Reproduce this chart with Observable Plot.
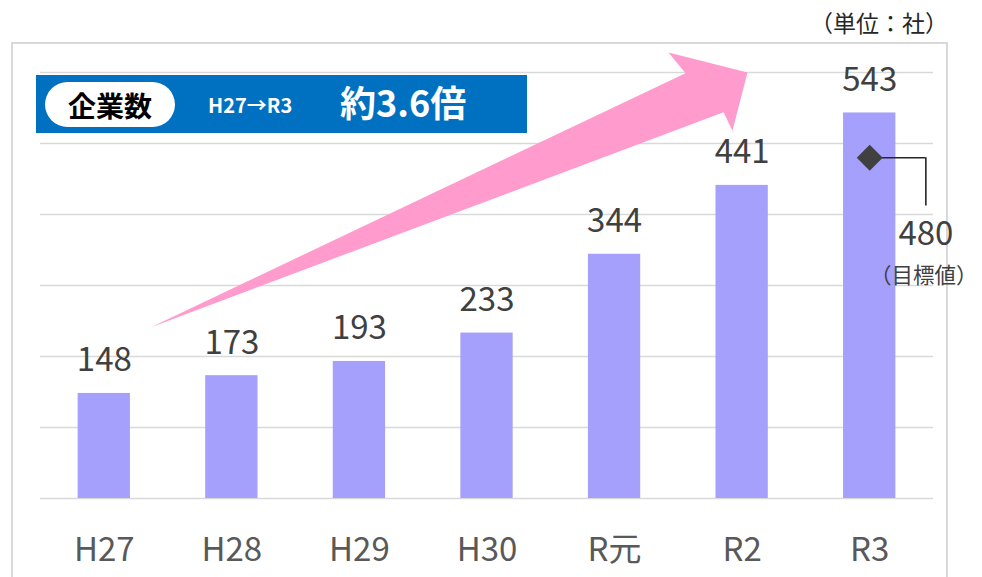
<!DOCTYPE html>
<html>
<head>
<meta charset="utf-8">
<script src="https://cdn.jsdelivr.net/npm/d3@7"></script>
<script src="https://cdn.jsdelivr.net/npm/@observablehq/plot@0.6"></script>
<style>
  html, body { margin: 0; padding: 0; background: #fff; }
  body { font-family: "Noto Sans CJK JP", "Noto Sans", sans-serif; }
  #wrap { position: relative; width: 982px; height: 577px; overflow: hidden; }
  #frame { position: absolute; left: 11px; top: 42px; width: 937px; height: 560px; border: 2px solid #d9d9d9; box-sizing: border-box; }
  #chart { position: absolute; left: 0; top: 0; }
  #unit { position: absolute; right: 34px; top: 5px; font-size: 23px; color: #262626; white-space: nowrap; }
  #banner { position: absolute; left: 36px; top: 75px; width: 491px; height: 58px; background: #0070c0; }
  #pill { position: absolute; left: 9px; top: 7px; width: 130px; height: 45px; border-radius: 23px; background: #fff;
          display: flex; align-items: center; justify-content: center; font-weight: bold; font-size: 28px; color: #000; }
  #period { position: absolute; left: 172px; top: 15px; font-size: 20px; font-weight: bold; color: #fff; white-space: nowrap; }
  #ratio { position: absolute; left: 304px; top: 0px; font-size: 36px; font-weight: bold; color: #fff; white-space: nowrap; }
</style>
</head>
<body>
<div id="wrap">
  <div id="frame"></div>
  <div id="chart"></div>
  <div id="unit">（単位：社）</div>
  <div id="banner">
    <div id="pill">企業数</div>
    <span id="period">H27→R3</span>
    <span id="ratio">約3.6倍</span>
  </div>
</div>
<script>
// ---- data ----
const categories = ["H27", "H28", "H29", "H30", "R元", "R2", "R3"];
const companies = [148, 173, 193, 233, 344, 441, 543];
const targetCategory = "R3";
const targetValue = 480;
const targetLabel = "（目標値）";
const gridValues = [0, 100, 200, 300, 400, 500, 600];
// decorative growth arrow outline, in data units (category index, value)
const arrowIndex = [0.362, 4.556, 4.423, 5.042, 4.924, 4.854];
const arrowValue = [241, 599, 628, 600, 518, 544];

const rows = categories.map((c, i) => ({ i, cat: c, value: companies[i] }));
const arrow = arrowIndex.map((x, k) => ({ x, y: arrowValue[k] }));
const tIdx = categories.indexOf(targetCategory);
const target = [{ i: tIdx, value: targetValue }];

const half = 0.205;
const font = "'Noto Sans CJK JP', 'Noto Sans', sans-serif";

const chart = Plot.plot({
  width: 982,
  height: 577,
  marginTop: 72,
  marginBottom: 79,
  marginLeft: 40,
  marginRight: 49,
  x: { type: "linear", domain: [-0.5, categories.length - 0.5], axis: null },
  y: { domain: [0, 600], axis: null },
  style: { fontFamily: font, background: "transparent", overflow: "visible" },
  marks: [
    Plot.ruleY(gridValues, { stroke: "#d9d9d9", strokeWidth: 1.6 }),
    Plot.line(arrow, { x: "x", y: "y", fill: "#ff9bcd", stroke: "none", curve: "linear-closed" }),
    Plot.rectY(rows, { x1: d => d.i - half, x2: d => d.i + half, y1: 0, y2: "value", fill: "#a4a0fc" }),
    Plot.text(rows, { x: "i", y: "value", text: d => String(d.value), dy: -22, lineAnchor: "bottom", fontSize: 33, fill: "#404040" }),
    Plot.text(rows, { x: "i", frameAnchor: "bottom", text: "cat", dy: 62, lineAnchor: "bottom", fontSize: 33, fill: "#595959" }),
    // target annotation
    Plot.ruleY(target, { y: "value", x1: d => d.i, x2: d => d.i + 0.44, stroke: "#262626", strokeWidth: 1.6 }),
    Plot.ruleX(target, { x: d => d.i + 0.44, y1: "value", y2: d => d.value - 68, stroke: "#262626", strokeWidth: 1.6 }),
    Plot.dot(target, { x: "i", y: "value", symbol: "diamond2", r: 11.7, fill: "#404040", stroke: "none" }),
    Plot.text(target, { x: d => d.i + 0.44, y: "value", text: d => String(d.value), dy: 87, lineAnchor: "bottom", fontSize: 33, fill: "#404040" }),
    Plot.text(target, { x: d => d.i + 0.44, y: "value", text: () => targetLabel, dy: 125, dx: -2, lineAnchor: "bottom", fontSize: 21.5, fill: "#404040" })
  ]
});
document.getElementById("chart").appendChild(chart);
</script>
</body>
</html>
